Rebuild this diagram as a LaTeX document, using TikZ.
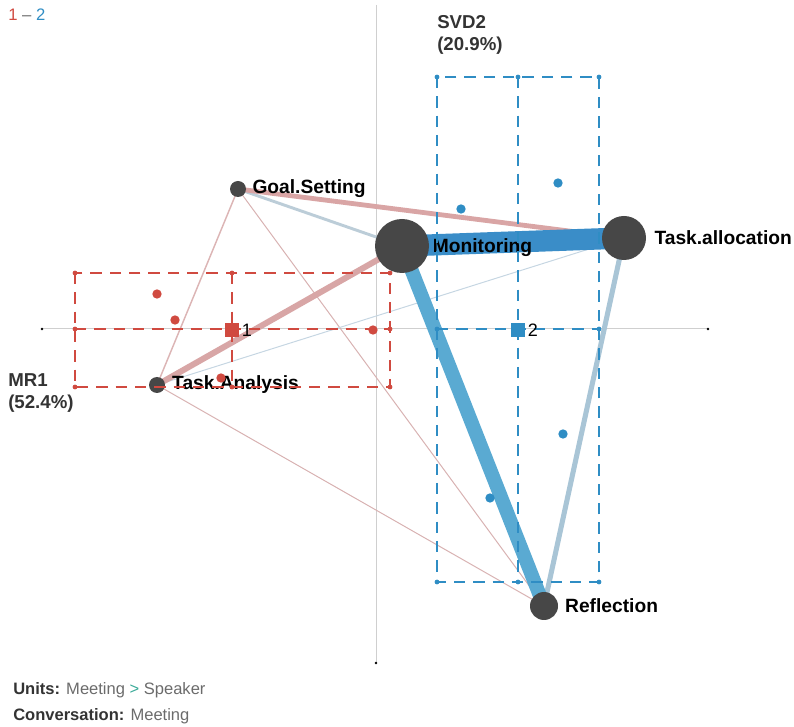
\documentclass[tikz,border=0pt]{standalone}
\usepackage{fontspec}
\setmainfont{Liberation Sans}
\usetikzlibrary{positioning,backgrounds}
\definecolor{grpred}{HTML}{D04A40}
\definecolor{grpblue}{HTML}{2F8DC4}
\definecolor{unitgray}{HTML}{474747}
\definecolor{axisgray}{HTML}{CFCFCF}
\definecolor{keygray}{HTML}{333333}
\definecolor{valgray}{HTML}{6B6B6B}
\definecolor{arrowteal}{HTML}{3AAA98}
\tikzset{unit/.style={circle,fill=unitgray,inner sep=0pt,minimum size=#1},
lbl/.style={font=\bfseries\fontsize{14.4}{16}\selectfont,inner sep=0pt,text=black}}
\tikzstyle{redbox}  = [grpred, line width=1.9pt, dash pattern=on 8.5pt off 6pt]
\tikzstyle{bluebox} = [grpblue, line width=1.9pt, dash pattern=on 8.5pt off 6pt]
\tikzstyle{redpt}   = [circle, fill=grpred, inner sep=0pt, minimum size=7pt]
\tikzstyle{bluept}  = [circle, fill=grpblue, inner sep=0pt, minimum size=7pt]
\tikzstyle{edge}    = [line cap=butt]

\begin{document}
\begin{tikzpicture}[x=0.75pt,y=-0.75pt]
	\useasboundingbox (0,0) rectangle (794,727);
	% network nodes
	\node[unit=12pt] (gs) at (238,189) {};
	\node[unit=40.5pt] (mon) at (402,246) {};
	\node[unit=33pt] (tal) at (624,238) {};
	\node[unit=12pt] (ta) at (157,385) {};
	\node[unit=21pt] (ref) at (544,606) {};
	\node[lbl, right=4.5pt of gs.east] (gslbl) {Goal.Setting};
	\node[lbl, right=2.5pt of mon.east, yshift=-1pt] (monlbl) {Monitoring};
	\node[lbl, right=6pt of tal.east] (tallbl) {Task.allocation};
	\node[lbl, right=5pt of ta.east] (talbl) {Task.Analysis};
	\node[lbl, right=5pt of ref.east] (reflbl) {Reflection};
	% axes and edges
	\begin{scope}[on background layer]
		\coordinate (xl) at (42,329);
		\coordinate (xr) at (708,329);
		\coordinate (yt) at (376,5);
		\coordinate (yb) at (376,663);
		\draw[axisgray, line width=0.75pt] (xl) -- (xr);
		\draw[axisgray, line width=0.75pt] (yt) -- (yb);
		\fill[black] (xl) circle (1pt) (xr) circle (1pt) (yb) circle (1pt);
		\draw[edge, color={rgb,255:red,216;green,178;blue,178}, line width=0.75pt] (gs.center) -- (ref.center);
		\draw[edge, color={rgb,255:red,216;green,178;blue,178}, line width=0.75pt] (ta.center) -- (ref.center);
		\draw[edge, color={rgb,255:red,198;green,214;blue,226}, line width=0.75pt] (ta.center) -- (tal.center);
		\draw[edge, color={rgb,255:red,220;green,181;blue,181}, line width=1.1pt] (gs.center) -- (ta.center);
		\draw[edge, color={rgb,255:red,188;green,205;blue,216}, line width=2.2pt] (gs.center) -- (mon.center);
		\draw[edge, color={rgb,255:red,217;green,165;blue,165}, line width=3.6pt] (gs.center) -- (tal.center);
		\draw[edge, color={rgb,255:red,216;green,166;blue,166}, line width=4.5pt] (ta.center) -- (mon.center);
		\draw[edge, color={rgb,255:red,169;green,197;blue,214}, line width=3.8pt] (tal.center) -- (ref.center);
		\draw[edge, color={rgb,255:red,90;green,170;blue,210}, line width=10.5pt] (mon.center) -- (ref.center);
		\draw[edge, color={rgb,255:red,58;green,141;blue,200}, line width=16pt] (mon.center) -- (tal.center);
	\end{scope}
	% group 1 (red)
	\draw[redbox] (75,273) rectangle (390,387);
	\draw[redbox] (232,273) -- (232,387);
	\draw[redbox] (75,329) -- (390,329);
	\foreach \p in {(75,273),(232,273),(390,273),(75,329),(390,329),(75,387),(232,387),(390,387)}
		\fill[grpred] \p circle (1.8pt);
	\node[redpt] (r1) at (157,294) {};
	\node[redpt] (r2) at (175,320) {};
	\node[redpt] (r3) at (373,330) {};
	\node[redpt] (r4) at (221,378) {};
	\node[fill=grpred, inner sep=0pt, minimum size=10pt] (c1) at (232,330) {};
	\node[right=2pt of c1, inner sep=0pt, font=\fontsize{13.5}{15}\selectfont] (c1lbl) {1};
	% group 2 (blue)
	\draw[bluebox] (437,77) rectangle (599,582);
	\draw[bluebox] (518,77) -- (518,582);
	\draw[bluebox] (437,329) -- (599,329);
	\foreach \p in {(437,77),(518,77),(599,77),(437,329),(599,329),(437,582),(518,582),(599,582)}
		\fill[grpblue] \p circle (1.8pt);
	\node[bluept] (b1) at (461,209) {};
	\node[bluept] (b2) at (558,183) {};
	\node[bluept] (b3) at (563,434) {};
	\node[bluept] (b4) at (490,498) {};
	\node[fill=grpblue, inner sep=0pt, minimum size=10pt] (c2) at (518,330) {};
	\node[right=2pt of c2, inner sep=0pt, font=\fontsize{13.5}{15}\selectfont] (c2lbl) {2};
	% axis titles
	\node[anchor=west, align=left, inner sep=0pt, text=keygray, font=\bfseries\fontsize{14}{16.5}\selectfont] (mr1) at (8,393) {MR1\\(52.4\%)};
	\node[anchor=west, align=left, inner sep=0pt, text=keygray, font=\bfseries\fontsize{14}{16.5}\selectfont] (svd2) at (437,35) {SVD2\\(20.9\%)};
	% legend and footer
	\node[anchor=west, inner sep=0pt, font=\fontsize{12.5}{14}\selectfont] (legend) at (8,15) {\textcolor{grpred}{1} \textcolor{valgray}{--} \textcolor{grpblue}{2}};
	\node[anchor=west, inner sep=0pt, font=\fontsize{12.4}{14}\selectfont] (units) at (13,690) {\textcolor{keygray}{\bfseries Units:} \textcolor{valgray}{Meeting} \textcolor{arrowteal}{>} \textcolor{valgray}{Speaker}};
	\node[anchor=west, inner sep=0pt, font=\fontsize{12.4}{14}\selectfont] (conv) at (13,716) {\textcolor{keygray}{\bfseries Conversation:} \textcolor{valgray}{Meeting}};
\end{tikzpicture}
\end{document}
